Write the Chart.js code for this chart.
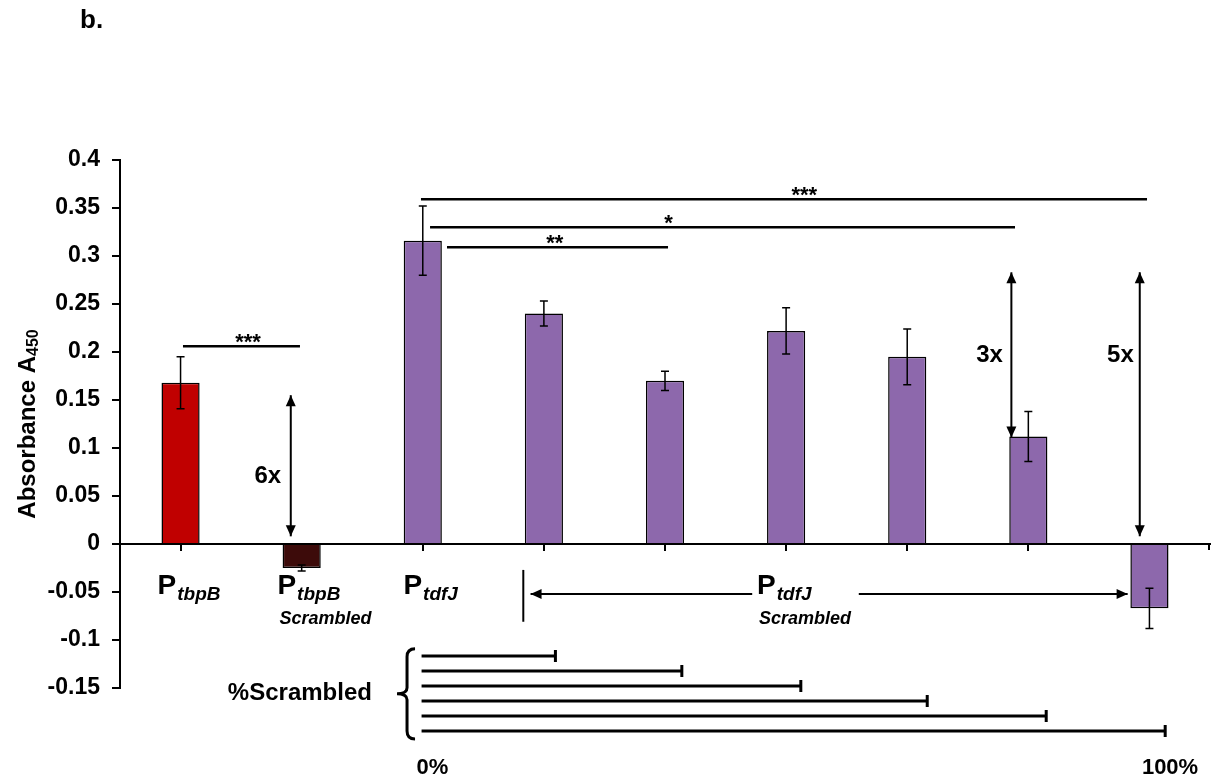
<!DOCTYPE html>
<html>
<head>
<meta charset="utf-8">
<script src="https://cdn.jsdelivr.net/npm/chart.js@4"></script>
<style>
    body { margin: 0; background: #fff; }
    #absorbanceChart { display: block; }
</style>
</head>
<body>
<canvas id="absorbanceChart" width="1219" height="778"></canvas>
<script>
// Data
const categories = ['P tbpB', 'P tbpB Scrambled', 'P tdfJ', 'P tdfJ 18%', 'P tdfJ 35%', 'P tdfJ 51%', 'P tdfJ 68%', 'P tdfJ 84%', 'P tdfJ 100%'];
const absorbance = [0.168, -0.025, 0.316, 0.240, 0.170, 0.222, 0.195, 0.112, -0.067];
const errors = [0.027, 0.003, 0.036, 0.013, 0.010, 0.024, 0.029, 0.026, 0.021];
const barColors = ['#c00000', '#3d0b0a', '#8d68ac', '#8d68ac', '#8d68ac', '#8d68ac', '#8d68ac', '#8d68ac', '#8d68ac'];
const scrambledPct = [18, 35, 51, 68, 84, 100];
const yMin = -0.15;
const yMax = 0.4;
const yStep = 0.05;

const FONT = '"Liberation Sans", Arial, Helvetica, sans-serif';

// fractional category index -> pixel
function catX(xs, c) {
    const w = xs.getPixelForValue(1) - xs.getPixelForValue(0);
    return xs.getPixelForValue(0) + c * w;
}

function arrowHead(ctx, x, y, dx, dy) {
    const len = 11, half = 5;
    const n = Math.hypot(dx, dy);
    const ux = dx / n, uy = dy / n;
    ctx.beginPath();
    ctx.moveTo(x, y);
    ctx.lineTo(x - ux * len - uy * half, y - uy * len + ux * half);
    ctx.lineTo(x - ux * len + uy * half, y - uy * len - ux * half);
    ctx.closePath();
    ctx.fill();
}

function arrow(ctx, x1, y1, x2, y2, both) {
    ctx.beginPath();
    ctx.moveTo(x1, y1);
    ctx.lineTo(x2, y2);
    ctx.stroke();
    arrowHead(ctx, x2, y2, x2 - x1, y2 - y1);
    if (both) arrowHead(ctx, x1, y1, x1 - x2, y1 - y2);
}

// "P" with an italic subscript, optional second line
function drawPLabel(ctx, x, y, sub, second) {
    ctx.textAlign = 'left';
    ctx.textBaseline = 'alphabetic';
    ctx.font = 'bold 28px ' + FONT;
    ctx.fillText('P', x, y);
    const pw = ctx.measureText('P').width;
    ctx.font = 'italic bold 19px ' + FONT;
    ctx.fillText(sub, x + pw + 1, y + 6);
    if (second) {
        ctx.font = 'italic bold 18px ' + FONT;
        ctx.fillText(second, x + 2, y + 30);
    }
}

// error bars
const errorBarPlugin = {
    id: 'errorBars',
    afterDatasetsDraw(chart) {
        const ctx = chart.ctx;
        const ys = chart.scales.y;
        const meta = chart.getDatasetMeta(0);
        ctx.save();
        ctx.strokeStyle = '#000';
        ctx.lineWidth = 1.5;
        meta.data.forEach((bar, i) => {
            const top = ys.getPixelForValue(absorbance[i] + errors[i]);
            const bot = ys.getPixelForValue(absorbance[i] - errors[i]);
            ctx.beginPath();
            ctx.moveTo(bar.x, top);
            ctx.lineTo(bar.x, bot);
            ctx.moveTo(bar.x - 4, top);
            ctx.lineTo(bar.x + 4, top);
            ctx.moveTo(bar.x - 4, bot);
            ctx.lineTo(bar.x + 4, bot);
            ctx.stroke();
        });
        ctx.restore();
    }
};

// significance lines, fold arrows, labels and the %scrambled key
const annotationPlugin = {
    id: 'annotations',
    afterDraw(chart) {
        const ctx = chart.ctx;
        const xs = chart.scales.x;
        const ys = chart.scales.y;
        const zeroY = ys.getPixelForValue(0);
        ctx.save();
        ctx.fillStyle = '#000';
        ctx.strokeStyle = '#000';

        // tick at right end of x axis
        ctx.lineWidth = 2;
        ctx.beginPath();
        ctx.moveTo(chart.chartArea.right - 1, zeroY);
        ctx.lineTo(chart.chartArea.right - 1, zeroY + 6);
        ctx.stroke();

        // significance lines
        const sig = [
            { x1: 0.02, x2: 0.986, y: 0.206, tx: 0.557, text: '***' },
            { x1: 1.985, x2: 7.98, y: 0.359, tx: 5.15, text: '***' },
            { x1: 2.06, x2: 6.89, y: 0.330, tx: 4.03, text: '*' },
            { x1: 2.20, x2: 4.025, y: 0.309, tx: 3.09, text: '**' }
        ];
        ctx.lineWidth = 2.5;
        ctx.font = 'bold 22px ' + FONT;
        ctx.textAlign = 'center';
        ctx.textBaseline = 'alphabetic';
        sig.forEach(s => {
            const y = ys.getPixelForValue(s.y);
            ctx.beginPath();
            ctx.moveTo(catX(xs, s.x1), y);
            ctx.lineTo(catX(xs, s.x2), y);
            ctx.stroke();
            ctx.fillText(s.text, catX(xs, s.tx), y + 3);
        });

        // fold-change arrows
        const folds = [
            { x: 0.91, y1: 0.155, y2: 0.008, tx: 0.72, ty: 0.07, text: '6x' },
            { x: 6.86, y1: 0.283, y2: 0.111, tx: 6.68, ty: 0.196, text: '3x' },
            { x: 7.92, y1: 0.283, y2: 0.008, tx: 7.76, ty: 0.196, text: '5x' }
        ];
        ctx.lineWidth = 2;
        ctx.font = 'bold 24px ' + FONT;
        ctx.textBaseline = 'middle';
        folds.forEach(f => {
            const x = catX(xs, f.x);
            arrow(ctx, x, ys.getPixelForValue(f.y1), x, ys.getPixelForValue(f.y2), true);
            ctx.fillText(f.text, catX(xs, f.tx), ys.getPixelForValue(f.ty));
        });

        // category labels
        drawPLabel(ctx, catX(xs, -0.19), zeroY + 50, 'tbpB');
        drawPLabel(ctx, catX(xs, 0.80), zeroY + 50, 'tbpB', 'Scrambled');
        drawPLabel(ctx, catX(xs, 1.84), zeroY + 50, 'tdfJ');
        drawPLabel(ctx, catX(xs, 4.76), zeroY + 50, 'tdfJ', 'Scrambled');

        // range arrows for the scrambled group
        const ay = ys.getPixelForValue(-0.052);
        ctx.lineWidth = 2;
        ctx.beginPath();
        ctx.moveTo(catX(xs, 2.83), ys.getPixelForValue(-0.027));
        ctx.lineTo(catX(xs, 2.83), ys.getPixelForValue(-0.081));
        ctx.stroke();
        arrow(ctx, catX(xs, 4.72), ay, catX(xs, 2.89), ay, false);
        arrow(ctx, catX(xs, 5.60), ay, catX(xs, 7.82), ay, false);

        // %Scrambled key
        const x0 = catX(xs, 1.99);
        const x100 = catX(xs, 8.13);
        ctx.lineWidth = 3;
        scrambledPct.forEach((p, k) => {
            const y = ys.getPixelForValue(-0.1167 - k * 0.0156);
            const xe = x0 + (x100 - x0) * p / 100;
            ctx.beginPath();
            ctx.moveTo(x0, y);
            ctx.lineTo(xe, y);
            ctx.moveTo(xe, y - 6);
            ctx.lineTo(xe, y + 6);
            ctx.stroke();
        });
        // brace
        const bx = catX(xs, 1.87);
        const bt = ys.getPixelForValue(-0.109);
        const bb = ys.getPixelForValue(-0.203);
        const bm = (bt + bb) / 2;
        ctx.beginPath();
        ctx.moveTo(bx + 8, bt);
        ctx.quadraticCurveTo(bx, bt, bx, bt + 8);
        ctx.lineTo(bx, bm - 6);
        ctx.quadraticCurveTo(bx, bm, bx - 10, bm);
        ctx.quadraticCurveTo(bx, bm, bx, bm + 6);
        ctx.lineTo(bx, bb - 8);
        ctx.quadraticCurveTo(bx, bb, bx + 8, bb);
        ctx.stroke();

        ctx.font = 'bold 24px ' + FONT;
        ctx.textAlign = 'right';
        ctx.textBaseline = 'middle';
        ctx.fillText('%Scrambled', catX(xs, 1.58), ys.getPixelForValue(-0.156));

        ctx.font = 'bold 22px ' + FONT;
        ctx.textAlign = 'center';
        ctx.textBaseline = 'alphabetic';
        ctx.fillText('0%', catX(xs, 2.08), ys.getPixelForValue(-0.24));
        ctx.fillText('100%', catX(xs, 8.17), ys.getPixelForValue(-0.24));

        // y axis title with subscript
        ctx.save();
        ctx.translate(28, ys.getPixelForValue(0.125));
        ctx.rotate(-Math.PI / 2);
        ctx.font = 'bold 24px ' + FONT;
        const mainW = ctx.measureText('Absorbance A').width;
        ctx.font = 'bold 16px ' + FONT;
        const subW = ctx.measureText('450').width;
        const start = -(mainW + subW) / 2;
        ctx.textAlign = 'left';
        ctx.textBaseline = 'middle';
        ctx.font = 'bold 24px ' + FONT;
        ctx.fillText('Absorbance A', start, 0);
        ctx.font = 'bold 16px ' + FONT;
        ctx.fillText('450', start + mainW, 6);
        ctx.restore();

        // panel letter
        ctx.font = 'bold 26px ' + FONT;
        ctx.textAlign = 'left';
        ctx.textBaseline = 'alphabetic';
        ctx.fillText('b.', 80, 28);

        ctx.restore();
    }
};

const absorbanceCtx = document.getElementById('absorbanceChart').getContext('2d');
const absorbanceChart = new Chart(absorbanceCtx, {
    type: 'bar',
    data: {
        labels: categories,
        datasets: [{
            label: 'Absorbance A450',
            data: absorbance,
            backgroundColor: barColors,
            borderColor: '#000',
            borderWidth: 1.5,
            barPercentage: 0.315,
            categoryPercentage: 1
        }]
    },
    options: {
        responsive: false,
        animation: false,
        layout: {
            padding: { top: 160, right: 9, bottom: 90, left: 0 }
        },
        plugins: {
            legend: { display: false },
            tooltip: { enabled: false }
        },
        scales: {
            x: {
                position: { y: 0 },
                grid: {
                    display: true,
                    drawOnChartArea: false,
                    drawTicks: true,
                    tickLength: 6,
                    offset: false,
                    color: '#000',
                    lineWidth: 2
                },
                border: { color: '#000', width: 2 },
                ticks: { display: false }
            },
            y: {
                min: yMin,
                max: yMax,
                afterFit: function(scale) { scale.width = 120; },
                grid: {
                    display: true,
                    drawOnChartArea: false,
                    drawTicks: true,
                    tickLength: 8,
                    color: '#000',
                    lineWidth: 2
                },
                border: { color: '#000', width: 2 },
                ticks: {
                    stepSize: yStep,
                    padding: 12,
                    color: '#000',
                    font: { family: FONT, size: 23, weight: 'bold' },
                    callback: function(value) {
                        return parseFloat(value.toFixed(2)).toString();
                    }
                }
            }
        }
    },
    plugins: [errorBarPlugin, annotationPlugin]
});
</script>
</body>
</html>
